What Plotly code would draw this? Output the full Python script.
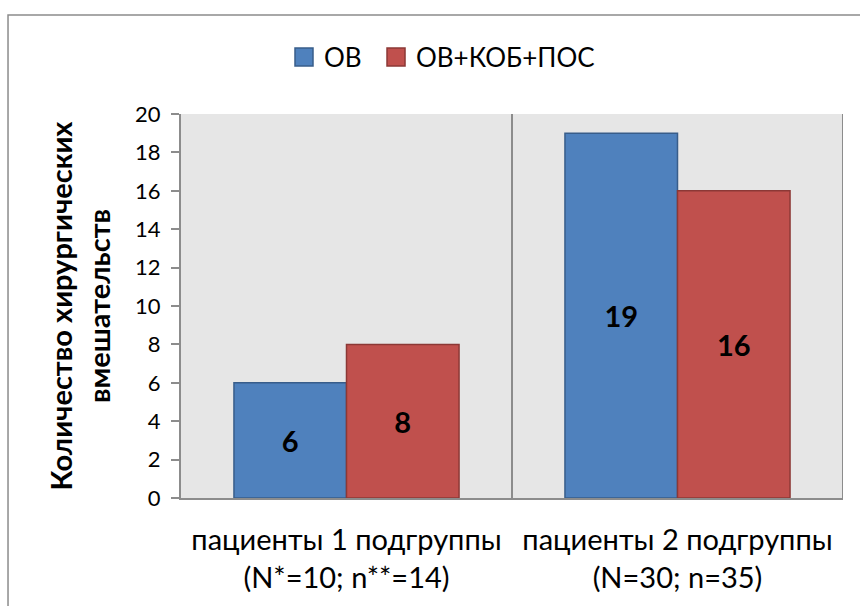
import plotly.graph_objects as go

# Number of surgical interventions per patient subgroup
categories = ["пациенты 1 подгруппы<br>(N*=10; n**=14)",
              "пациенты 2 подгруппы<br>(N=30; n=35)"]
series_names = ["ОВ", "ОВ+КОБ+ПОС"]
ov_values = [6, 19]
ov_kob_pos_values = [8, 16]
y_ticks = [0, 2, 4, 6, 8, 10, 12, 14, 16, 18, 20]

FONT = "Lato"
colors = ["#4F81BD", "#C0504D"]
edges = ["#385D8A", "#8C3836"]
AXIS_GREY = "#8c8c8c"

fig = go.Figure()
for name, vals, c, e in zip(series_names, [ov_values, ov_kob_pos_values], colors, edges):
    fig.add_trace(go.Bar(
        x=categories, y=vals, name=name,
        marker=dict(color=c, line=dict(color=e, width=1.5)),
        text=[str(v) for v in vals],
        textposition="inside", insidetextanchor="middle",
        textfont=dict(family=FONT, size=29, color="black", weight="bold"),
        textangle=0,
    ))

# vertical separators between the categories
for xv in [0.5, 1.5]:
    fig.add_shape(type="line", xref="x", yref="y", x0=xv, x1=xv, y0=0, y1=20,
                  line=dict(color=AXIS_GREY, width=2), layer="above")

# outer chart border
fig.add_shape(type="rect", xref="paper", yref="paper",
              x0=-0.2613, x1=1.3, y0=-0.5, y1=1.2578,
              line=dict(color=AXIS_GREY, width=1.5), fillcolor="rgba(0,0,0,0)")

# legend above the plot: coloured squares followed by the series names
legend_left = [0.1722, 0.3112]
sq_w, sq_top, sq_bot, text_gap, legend_mid = 0.0272, 1.1719, 1.125, 0.0136, 1.1484
for name, c, e, x0 in zip(series_names, colors, edges, legend_left):
    fig.add_shape(type="rect", xref="paper", yref="paper",
                  x0=x0, x1=x0 + sq_w, y0=sq_bot, y1=sq_top,
                  fillcolor=c, line=dict(color=e, width=1.5))
    fig.add_annotation(xref="paper", yref="paper", x=x0 + sq_w + text_gap, y=legend_mid,
                       text=name, showarrow=False, xanchor="left", yanchor="middle",
                       font=dict(family=FONT, size=26, color="black"))

fig.update_layout(
    width=860, height=606,
    margin=dict(l=181, r=17, t=114, b=108, autoexpand=False),
    paper_bgcolor="white", plot_bgcolor="#E6E6E6",
    barmode="group", bargap=0.32, bargroupgap=0,
    font=dict(family=FONT, color="black"),
    showlegend=False,
)
fig.update_xaxes(
    type="category", range=[-0.5, 1.5], automargin=False,
    showline=True, linecolor=AXIS_GREY, linewidth=2,
    ticks="", tickfont=dict(family=FONT, size=29),
    ticklabelstandoff=15, showgrid=False,
)
fig.update_yaxes(
    range=[0, 20], tickvals=y_ticks, automargin=False,
    showline=True, linecolor=AXIS_GREY, linewidth=2,
    ticks="outside", ticklen=8, tickcolor=AXIS_GREY, tickwidth=2,
    tickfont=dict(family=FONT, size=22), ticklabelstandoff=6,
    showgrid=False, zeroline=False,
    title=dict(text="<b>Количество хирургических<br>вмешательств</b>",
               font=dict(family=FONT, size=29), standoff=16),
)
fig.write_html("out.html")
